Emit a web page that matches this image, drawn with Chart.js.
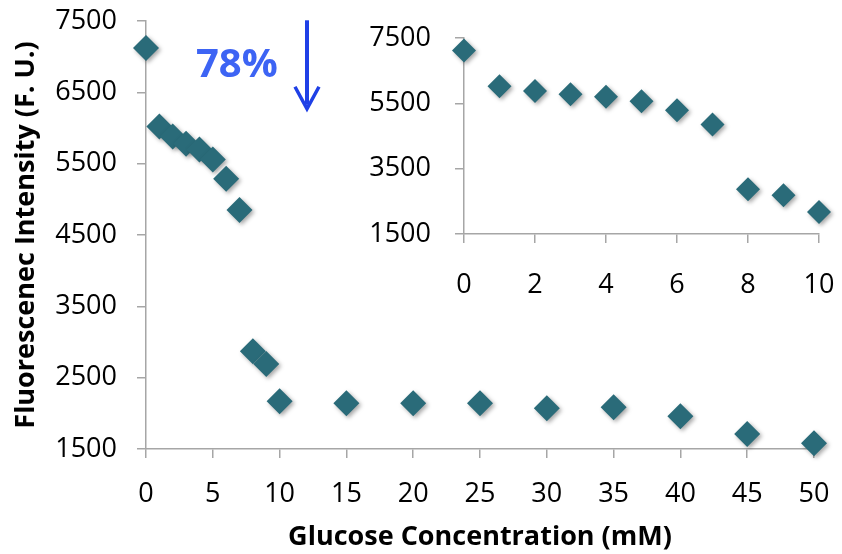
<!DOCTYPE html>
<html>
<head>
<meta charset="utf-8">
<script src="https://cdn.jsdelivr.net/npm/chart.js@4.4.1/dist/chart.umd.min.js"></script>
<style>
    html, body { margin: 0; padding: 0; background: #fff; }
    #wrap { position: relative; width: 842px; height: 554px; }
    #wrap canvas { position: absolute; left: 0; top: 0; }
    #insetChart { pointer-events: none; }
</style>
</head>
<body>
<div id="wrap">
    <canvas id="mainChart" width="842" height="554"></canvas>
    <canvas id="insetChart" width="842" height="554"></canvas>
</div>
<script>
// Glucose concentration (mM)
const glucose = [0, 1, 2, 3, 4, 5, 6, 7, 8, 9, 10, 15, 20, 25, 30, 35, 40, 45, 50];
// Fluorescence intensity (F. U.)
const intensity = [7120, 6020, 5880, 5780, 5700, 5560, 5290, 4850, 2870, 2690, 2170, 2140, 2140, 2140, 2070, 2085, 1960, 1710, 1580];

// Tick settings
const mainXTicks = { min: 0, max: 50, step: 5 };
const mainYTicks = { min: 1500, max: 7500, step: 1000 };
const insetXTicks = { min: 0, max: 10, step: 2 };
const insetYTicks = { min: 1500, max: 7500, step: 2000 };

const markerColor = '#2a6b79';
const axisColor = '#a6a6a6';
const tickFont = { family: 'Open Sans', size: 27 };

// soft drop shadow under the diamonds (like the Excel original)
const shadowPlugin = {
    id: 'shadow',
    beforeDatasetsDraw(chart) {
        const ctx = chart.ctx;
        ctx.save();
        ctx.shadowColor = 'rgba(0, 0, 0, 0.35)';
        ctx.shadowBlur = 4;
        ctx.shadowOffsetX = 2;
        ctx.shadowOffsetY = 2;
    },
    afterDatasetsDraw(chart) {
        chart.ctx.restore();
    }
};

// "78%" label and the blue down arrow
const annotationPlugin = {
    id: 'dropNote',
    afterDraw(chart) {
        const ctx = chart.ctx;
        const x = chart.scales.x;
        const y = chart.scales.y;
        ctx.save();
        ctx.fillStyle = '#3d64f4';
        ctx.font = 'bold 40px "Open Sans"';
        ctx.textAlign = 'center';
        ctx.textBaseline = 'middle';
        ctx.fillText('78%', x.getPixelForValue(6.8), y.getPixelForValue(6880));

        const ax = x.getPixelForValue(12.05);
        const top = y.getPixelForValue(7510);
        const tip = y.getPixelForValue(6270);
        ctx.strokeStyle = '#1f40e6';
        ctx.lineWidth = 4;
        ctx.beginPath();
        ctx.moveTo(ax, top);
        ctx.lineTo(ax, tip - 4);
        ctx.stroke();
        ctx.lineWidth = 3.5;
        ctx.beginPath();
        ctx.moveTo(ax - 12, tip - 22);
        ctx.lineTo(ax, tip);
        ctx.lineTo(ax + 12, tip - 22);
        ctx.stroke();
        ctx.restore();
    }
};

function axisGrid() {
    return {
        display: true,
        drawOnChartArea: false,
        drawTicks: true,
        tickLength: 9,
        color: axisColor,
        lineWidth: 1.5
    };
}

function plainLabel(value) {
    return String(value);
}

// keep the chart area where the layout padding says
function noEdgePadding(scale) {
    scale.paddingTop = 0;
    scale.paddingBottom = 0;
    scale.paddingLeft = 0;
    scale.paddingRight = 0;
}

function initializeMainChart() {
    const points = glucose.map((g, i) => ({ x: g, y: intensity[i] }));

    const config = {
        type: 'scatter',
        data: {
            datasets: [{
                data: points,
                pointStyle: 'rectRot',
                pointRadius: 13,
                pointHoverRadius: 13,
                backgroundColor: markerColor,
                borderColor: markerColor,
                borderWidth: 0,
                clip: false
            }]
        },
        options: {
            responsive: false,
            animation: false,
            events: [],
            layout: { padding: { left: 0, top: 21, right: 28, bottom: 0 } },
            plugins: {
                legend: { display: false },
                tooltip: { enabled: false }
            },
            scales: {
                x: {
                    type: 'linear',
                    min: mainXTicks.min,
                    max: mainXTicks.max,
                    grid: axisGrid(),
                    border: { display: true, color: axisColor, width: 1.5 },
                    ticks: { stepSize: mainXTicks.step, color: '#000', font: tickFont, padding: 20, callback: plainLabel },
                    title: {
                        display: true,
                        text: 'Glucose Concentration (mM)',
                        color: '#000',
                        font: { family: 'Open Sans', size: 27, weight: 'bold' },
                        padding: { top: 0, bottom: 0 }
                    },
                    afterFit(scale) { scale.height = 105; noEdgePadding(scale); }
                },
                y: {
                    type: 'linear',
                    min: mainYTicks.min,
                    max: mainYTicks.max,
                    grid: axisGrid(),
                    border: { display: true, color: axisColor, width: 1.5 },
                    ticks: { stepSize: mainYTicks.step, color: '#000', font: tickFont, padding: 20, callback: plainLabel },
                    title: {
                        display: true,
                        text: 'Fluorescenec Intensity (F. U.)',
                        color: '#000',
                        font: { family: 'Open Sans', size: 27, weight: 'bold' },
                        padding: { top: 10, bottom: 0 }
                    },
                    afterFit(scale) { scale.width = 146; noEdgePadding(scale); }
                }
            }
        },
        plugins: [shadowPlugin, annotationPlugin]
    };

    const ctx = document.getElementById('mainChart').getContext('2d');
    new Chart(ctx, config);
}

function initializeInsetChart() {
    // inset shows only the low-concentration part
    const points = [];
    glucose.forEach((g, i) => {
        if (g <= insetXTicks.max) points.push({ x: g, y: intensity[i] });
    });

    const config = {
        type: 'scatter',
        data: {
            datasets: [{
                data: points,
                pointStyle: 'rectRot',
                pointRadius: 12,
                pointHoverRadius: 12,
                backgroundColor: markerColor,
                borderColor: markerColor,
                borderWidth: 0,
                clip: false
            }]
        },
        options: {
            responsive: false,
            animation: false,
            events: [],
            layout: { padding: { left: 340, top: 38, right: 23, bottom: 260 } },
            plugins: {
                legend: { display: false },
                tooltip: { enabled: false }
            },
            scales: {
                x: {
                    type: 'linear',
                    min: insetXTicks.min,
                    max: insetXTicks.max,
                    grid: axisGrid(),
                    border: { display: true, color: axisColor, width: 1.5 },
                    ticks: { stepSize: insetXTicks.step, color: '#000', font: tickFont, padding: 26, callback: plainLabel },
                    afterFit(scale) { scale.height = 60; noEdgePadding(scale); }
                },
                y: {
                    type: 'linear',
                    min: insetYTicks.min,
                    max: insetYTicks.max,
                    grid: axisGrid(),
                    border: { display: true, color: axisColor, width: 1.5 },
                    ticks: { stepSize: insetYTicks.step, color: '#000', font: tickFont, padding: 24, callback: plainLabel },
                    afterFit(scale) { scale.width = 124; noEdgePadding(scale); }
                }
            }
        },
        plugins: [shadowPlugin]
    };

    const ctx = document.getElementById('insetChart').getContext('2d');
    new Chart(ctx, config);
}

document.addEventListener('DOMContentLoaded', function () {
    initializeMainChart();
    initializeInsetChart();
});
</script>
</body>
</html>
